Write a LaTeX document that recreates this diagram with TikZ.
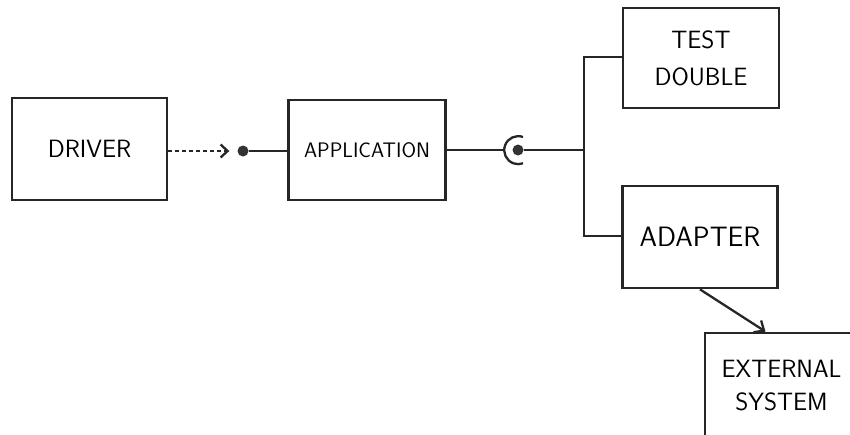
\documentclass[tikz,border=0pt]{standalone}
\usepackage{tikz}
\usetikzlibrary{arrows.meta, calc, positioning}

\begin{document}
\begin{tikzpicture}[x=1pt, y=-1pt,
    box/.style={draw=black!85, line width=2.8pt, rectangle, inner sep=0pt, align=center},
    wire/.style={black!85, line width=2.3pt},
    ball/.style={circle, fill=black!80, inner sep=0pt, minimum size=11pt}]
        \useasboundingbox (0, 0) rectangle (850, 434);
        \clip (0, 0) rectangle (850, 434);

        % Boxes
        \node[box, minimum width=155pt, minimum height=102pt, font=\sffamily\fontsize{25}{30}\selectfont] (driver) at (89.5, 149) {DRIVER};
        \node[box, minimum width=157pt, minimum height=100pt, font=\sffamily\fontsize{21}{26}\selectfont] (app) at (367, 150) {APPLICATION};
        \node[box, minimum width=156pt, minimum height=100pt, font=\sffamily\fontsize{25}{37}\selectfont] (double) at (701, 58) {TEST\\DOUBLE};
        \node[box, minimum width=155pt, minimum height=102pt, font=\sffamily\fontsize{28}{30}\selectfont] (adapter) at (700, 237) {ADAPTER};
        \node[box, minimum width=153pt, minimum height=106pt, font=\sffamily\fontsize{25}{33}\selectfont] (external) at (781.5, 386) {EXTERNAL\\SYSTEM};

        % Provided and required interfaces
        \node[ball] (provided) at (243, 151) {};
        \node[ball] (required) at (518, 150) {};
        \coordinate (socket) at (504, 150);
        \coordinate (fork) at (584, 150);

        % Paths
        \draw[wire, dash pattern=on 4pt off 3pt, -{Straight Barb[length=7pt, width=13pt]}, shorten >=8pt] (driver.east |- provided) -- (provided);
        \draw[wire] (provided) -- (app.west |- provided);
        \draw[wire] (app.east) -- (socket);
        \draw[wire] ($(required)+(5,-13)$) arc[start angle=-70, end angle=-290, radius=14];
        \draw[wire] (required) -- (fork);
        \draw[wire] (double.west |- 0,57) -| (fork) |- (adapter.west |- 0,236);
        \draw[wire, -{Straight Barb[length=8pt, width=14pt]}] (adapter.south) -- ([xshift=-16pt]external.north);
    \end{tikzpicture}
\end{document}
